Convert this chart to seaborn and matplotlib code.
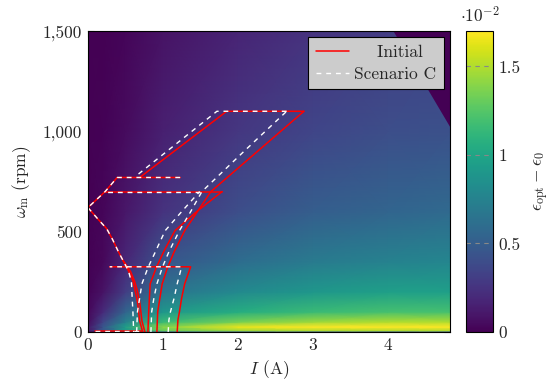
import matplotlib
matplotlib.use("Agg")
import matplotlib.pyplot as plt
from matplotlib.lines import Line2D
import numpy as np
import pandas as pd
import seaborn as sns

# background field: efficiency gain (x 1e-2)
I_grid = [0, 0.2, 0.5, 1, 2, 3, 4, 4.83]
w_grid = [0, 8, 25, 50, 100, 200, 350, 600, 1000, 1500]
eps_gain = [
    [0.00, 0.30, 0.45, 0.50, 0.50, 0.50, 0.50, 0.50],
    [0.10, 0.45, 0.90, 1.30, 1.45, 1.50, 1.50, 1.50],
    [0.10, 0.45, 0.95, 1.40, 1.65, 1.70, 1.70, 1.70],
    [0.05, 0.35, 0.75, 1.15, 1.35, 1.45, 1.50, 1.50],
    [0.03, 0.20, 0.55, 0.90, 1.05, 1.15, 1.20, 1.20],
    [0.01, 0.08, 0.30, 0.65, 0.80, 0.90, 0.95, 0.95],
    [0.00, 0.03, 0.18, 0.45, 0.60, 0.70, 0.75, 0.78],
    [0.00, 0.02, 0.10, 0.25, 0.40, 0.50, 0.55, 0.58],
    [0.00, 0.01, 0.05, 0.15, 0.27, 0.35, 0.40, 0.42],
    [0.00, 0.00, 0.02, 0.08, 0.17, 0.25, 0.30, 0.32],
]
# infeasible corner (top right), value 0
corner_I = [4.07, 4.83]
corner_w = [1500, 1020]

# operating trajectories, (I, omega) per piece
initial = {
    "ramp1": ([0.92, 0.93, 0.96, 0.99, 1.06, 1.15, 1.29, 1.46, 1.64, 2.26, 2.88],
              [0, 100, 170, 240, 320, 400, 505, 600, 700, 900, 1100]),
    "top1": ([2.88, 1.85, 0.69], [1100, 1100, 770]),
    "ramp2": ([0.80, 0.81, 0.82, 0.83, 0.91, 1.01, 1.16, 1.45, 1.79],
              [0, 100, 170, 240, 320, 400, 505, 600, 700]),
    "top2": ([1.79, 0.23], [700, 700]),
    "mid": ([1.23, 0.39, 0.23, 0.0], [770, 770, 700, 620]),
    "left": ([0.0, 0.07, 0.14, 0.25, 0.33, 0.40, 0.47, 0.54, 0.60, 0.63, 0.66, 0.67, 0.69, 0.73],
             [620, 590, 560, 515, 460, 405, 355, 305, 255, 205, 150, 120, 55, 0]),
    "left_b": ([0.47, 0.50, 0.57, 0.62, 0.66, 0.69, 0.70, 0.72, 0.76],
               [355, 340, 300, 255, 205, 150, 120, 55, 0]),
    "ramp3": ([1.19, 1.20, 1.22, 1.25, 1.29, 1.37, 0.29], [0, 60, 100, 170, 240, 325, 325]),
    "base": ([0.09, 0.72], [5, 5]),
}
scenario_c = {
    "ramp1": ([0.84, 0.85, 0.88, 0.92, 0.99, 1.08, 1.22, 1.37, 1.52, 2.08, 2.65],
              [0, 100, 170, 240, 320, 400, 505, 600, 700, 900, 1100]),
    "top1": ([2.65, 1.72, 0.65], [1100, 1100, 780]),
    "ramp2": ([0.65, 0.66, 0.69, 0.72, 0.80, 0.90, 1.03, 1.25, 1.49],
              [0, 100, 170, 240, 320, 400, 505, 600, 700]),
    "top2": ([1.49, 0.23], [700, 700]),
    "mid": ([1.23, 0.39, 0.23, 0.0], [770, 770, 700, 620]),
    "left": ([0.0, 0.07, 0.14, 0.25, 0.33, 0.40, 0.47, 0.54, 0.58, 0.59, 0.60, 0.61],
             [620, 590, 560, 515, 460, 405, 355, 305, 250, 170, 100, 0]),
    "ramp3": ([1.07, 1.08, 1.10, 1.15, 1.19, 1.25, 0.29], [0, 60, 100, 170, 240, 325, 325]),
    "base": ([0.09, 0.72], [5, 5]),
}

x_ticks = [0, 1, 2, 3, 4]
x_labels = ["0", "1", "2", "3", "4"]
y_ticks = [0, 500, 1000, 1500]
y_labels = ["0", "500", "1,000", "1,500"]
cb_ticks = [0, 0.5, 1, 1.5]
cb_labels = ["0", "0.5", "1", "1.5"]


def to_frame(pieces):
    rows = []
    for name, (xs, ys) in pieces.items():
        for k, (x, y) in enumerate(zip(xs, ys)):
            rows.append({"piece": name, "order": k, "I": x, "w": y})
    return pd.DataFrame(rows)


sns.set_theme(style="ticks")
plt.rcParams["font.family"] = ["cmr10", "DejaVu Serif"]
plt.rcParams["mathtext.fontset"] = "cm"
plt.rcParams["axes.unicode_minus"] = False
plt.rcParams["axes.formatter.use_mathtext"] = True
fs = 12.5

fig = plt.figure(figsize=(5.53, 3.81), dpi=100)
ax = fig.add_axes([0.159, 0.1286, 0.655, 0.79])
cax = fig.add_axes([0.8427, 0.1286, 0.0488, 0.79])

mesh = ax.pcolormesh(I_grid, w_grid, np.array(eps_gain), shading="gouraud",
                     cmap="viridis", vmin=0, vmax=1.7)
ax.fill_between(corner_I, corner_w, 1500, color=plt.cm.viridis(0.0), lw=0)

sns.lineplot(data=to_frame(initial), x="I", y="w", units="piece", estimator=None,
             sort=False, color="red", lw=1.1, ax=ax)
sns.lineplot(data=to_frame(scenario_c), x="I", y="w", units="piece", estimator=None,
             sort=False, color="white", lw=1.0, dashes=(3.5, 3.5), ax=ax)

ax.set_xlim(0, 4.83)
ax.set_ylim(0, 1500)
ax.set_xticks(x_ticks, x_labels)
ax.set_yticks(y_ticks, y_labels)
ax.tick_params(direction="in", length=4, width=0.8, color="#888888",
               top=True, right=True, labelsize=fs, pad=4)
for s in ax.spines.values():
    s.set_color("black")
    s.set_linewidth(0.8)
ax.set_xlabel("$I$ (A)", fontsize=fs, labelpad=4)
ax.set_ylabel(r"$\omega_\mathrm{m}$ (rpm)", fontsize=fs, labelpad=7)

handles = [Line2D([], [], color="red", lw=1.1),
           Line2D([], [], color="white", lw=1.0, dashes=(3.5, 3.5))]
leg = ax.legend(handles, ["    Initial", "Scenario C"], loc="upper right",
                fontsize=fs, facecolor="#cccccc", edgecolor="black", framealpha=1,
                fancybox=False, handlelength=1.9, handletextpad=0.3,
                borderpad=0.45, labelspacing=0.35, borderaxespad=0.35)
leg.get_frame().set_linewidth(0.8)

cb = fig.colorbar(mesh, cax=cax)
cb.set_ticks(cb_ticks, labels=cb_labels)
cb.ax.tick_params(length=0, labelsize=fs, pad=4)
for t in cb_ticks[1:]:
    cax.axhline(t, color="#888888", lw=0.8, ls=(0, (4, 4)))
cb.outline.set_edgecolor("black")
cb.outline.set_linewidth(0.8)
cax.text(0.5, 1.02, r"$\cdot 10^{-2}$", transform=cax.transAxes,
         ha="center", va="bottom", fontsize=fs)
cb.set_label(r"$\epsilon_\mathrm{opt} - \epsilon_0$", fontsize=fs, labelpad=8)

fig.savefig("out.png", dpi=100)
